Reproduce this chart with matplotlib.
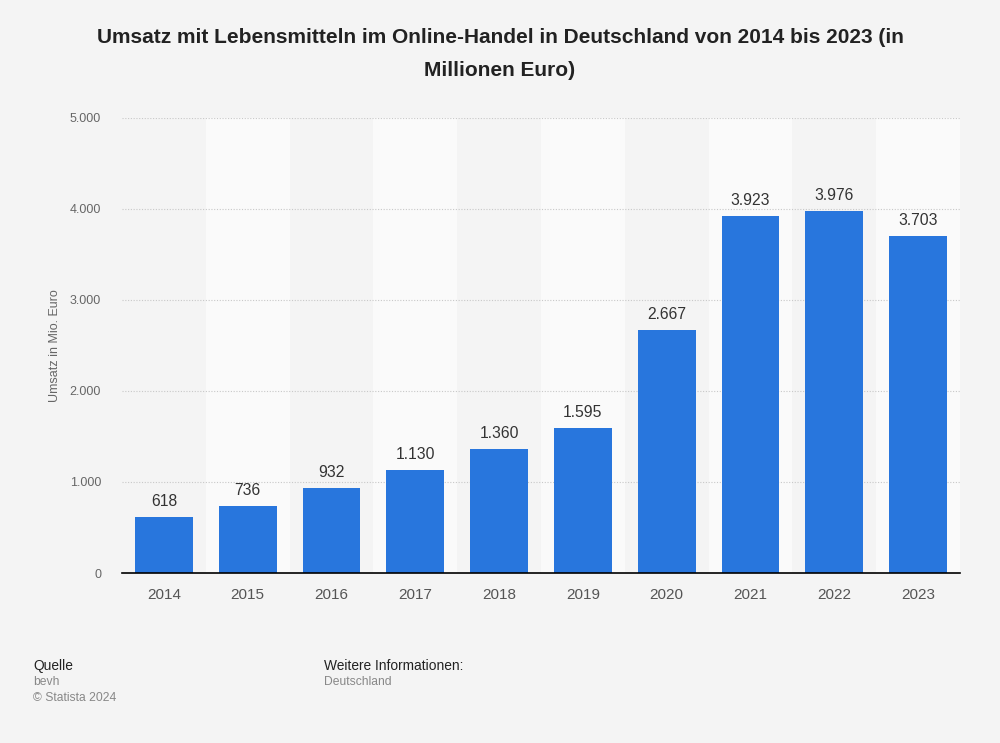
import matplotlib.pyplot as plt
import numpy as np

plt.rcParams['font.family'] = ['Liberation Sans', 'DejaVu Sans']

years = ['2014', '2015', '2016', '2017', '2018', '2019', '2020', '2021', '2022', '2023']
umsatz = [618, 736, 932, 1130, 1360, 1595, 2667, 3923, 3976, 3703]
yticks = [0, 1000, 2000, 3000, 4000, 5000]

def de_fmt(v):
    return f"{v:,.0f}".replace(",", ".")

fig = plt.figure(figsize=(10, 7.43), dpi=100, facecolor='#f4f4f4')
ax = fig.add_axes([0.122, 0.2288, 0.838, 0.6124])
ax.set_facecolor('#f4f4f4')

x = np.arange(len(years))
# alternating column bands
for i in x:
    if i % 2 == 1:
        ax.axvspan(i - 0.5, i + 0.5, color='#fafafa', zorder=0, lw=0)

for t in yticks[1:]:
    ax.axhline(t, color='#c8c8c8', lw=0.8, ls=(0, (1, 1.5)), zorder=1)

bars = ax.bar(x, umsatz, width=0.69, color='#2876dd', zorder=2)
for xi, v in zip(x, umsatz):
    ax.text(xi, v + 90, de_fmt(v), ha='center', va='bottom', fontsize=11.3, color='#333333')

ax.set_xlim(-0.5, len(years) - 0.5)
ax.set_ylim(0, 5000)
ax.set_xticks(x)
ax.set_xticklabels(years, fontsize=11, color='#555555')
ax.set_yticks(yticks)
ax.set_yticklabels([de_fmt(t) for t in yticks], fontsize=9, color='#666666')
ax.tick_params(axis='both', length=0)
ax.tick_params(axis='x', pad=11)
ax.tick_params(axis='y', pad=15)
for s in ['top', 'right', 'left']:
    ax.spines[s].set_visible(False)
ax.spines['bottom'].set_color('#000000')
ax.spines['bottom'].set_linewidth(1.2)
ax.spines['bottom'].set_zorder(3)

ax.set_ylabel('Umsatz in Mio. Euro', fontsize=9, color='#666666')
ax.yaxis.set_label_coords(-0.073, 0.5)

fig.text(0.5, 0.949, 'Umsatz mit Lebensmitteln im Online-Handel in Deutschland von 2014 bis 2023 (in',
         ha='center', va='center', fontsize=15, fontweight='bold', color='#222222')
fig.text(0.5, 0.905, 'Millionen Euro)',
         ha='center', va='center', fontsize=15, fontweight='bold', color='#222222')

fig.text(0.033, 0.104, 'Quelle', fontsize=9.9, color='#222222', va='center')
fig.text(0.033, 0.082, 'bevh', fontsize=8.7, color='#888888', va='center')
fig.text(0.033, 0.061, '© Statista 2024', fontsize=8.7, color='#888888', va='center')
fig.text(0.324, 0.104, 'Weitere Informationen:', fontsize=9.9, color='#222222', va='center')
fig.text(0.324, 0.082, 'Deutschland', fontsize=8.7, color='#888888', va='center')

fig.savefig('out.png', dpi=100, facecolor=fig.get_facecolor())
